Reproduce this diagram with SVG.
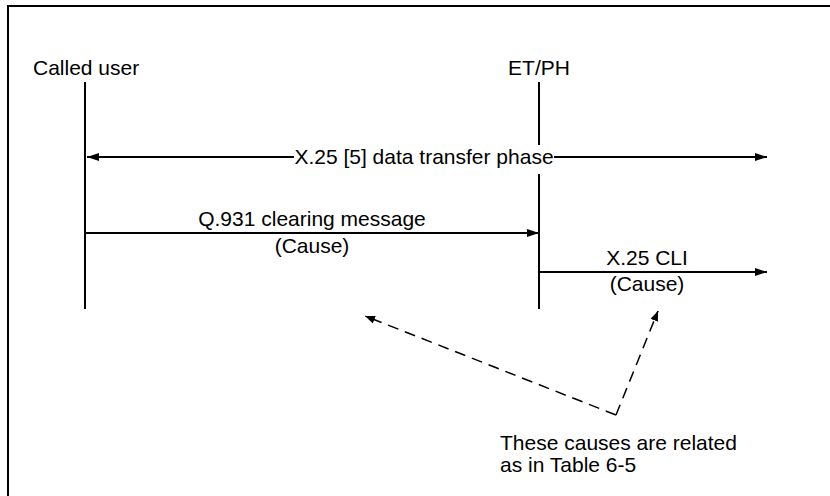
<svg xmlns="http://www.w3.org/2000/svg" width="830" height="496" viewBox="0 0 830 496">
<defs>
<style>
text{font-family:"Liberation Sans",Arial,sans-serif;font-size:21px;fill:#000}
.mid{text-anchor:middle}
.line{stroke:#000;stroke-width:2;fill:none}
.dash{stroke:#000;stroke-width:1.5;fill:none;stroke-dasharray:11,7}
</style>
<marker id="ah" viewBox="0 0 12 8" refX="12" refY="4" markerWidth="12" markerHeight="8" markerUnits="userSpaceOnUse" orient="auto-start-reverse">
<path d="M0,0 L12,4 L0,8 Z" fill="#000"/>
</marker>
<marker id="ahs" viewBox="0 0 10 8" refX="10" refY="4" markerWidth="10" markerHeight="8" markerUnits="userSpaceOnUse" orient="auto">
<path d="M0,0 L10,4 L0,8 Z" fill="#000"/>
</marker>
</defs>
<rect x="0" y="0" width="830" height="496" fill="#fff"/>
<rect x="8" y="6" width="900" height="600" fill="none" stroke="#000" stroke-width="2"/>
<g id="called-user">
<text x="33" y="75">Called user</text>
<line class="line" x1="85" y1="82" x2="85" y2="309"/>
</g>
<g id="et-ph">
<text class="mid" x="539" y="75">ET/PH</text>
<line class="line" x1="539" y1="82" x2="539" y2="309"/>
</g>
<g id="connectors">
<line class="line" x1="87" y1="157" x2="767" y2="157" marker-start="url(#ah)" marker-end="url(#ah)"/>
<rect x="294" y="145" width="260" height="29" fill="#fff"/>
<text class="mid" x="424" y="164">X.25 [5] data transfer phase</text>
<line class="line" x1="85" y1="233" x2="539" y2="233" marker-end="url(#ah)"/>
<text class="mid" x="312" y="226">Q.931 clearing message</text>
<text class="mid" x="312" y="253">(Cause)</text>
<line class="line" x1="539" y1="272" x2="767" y2="272" marker-end="url(#ah)"/>
<text class="mid" x="647" y="265">X.25 CLI</text>
<text class="mid" x="647" y="291">(Cause)</text>
<polyline class="dash" points="616,415 365,316"/>
<polyline class="dash" points="616,415 658,311"/>
<line x1="372" y1="318.8" x2="365" y2="316" stroke="#000" marker-end="url(#ahs)"/>
<line x1="655" y1="318.4" x2="658" y2="311" stroke="#000" marker-end="url(#ahs)"/>
</g>
<g id="note">
<text x="500" y="450">These causes are related</text>
<text x="500" y="472">as in Table 6-5</text>
</g>
</svg>
